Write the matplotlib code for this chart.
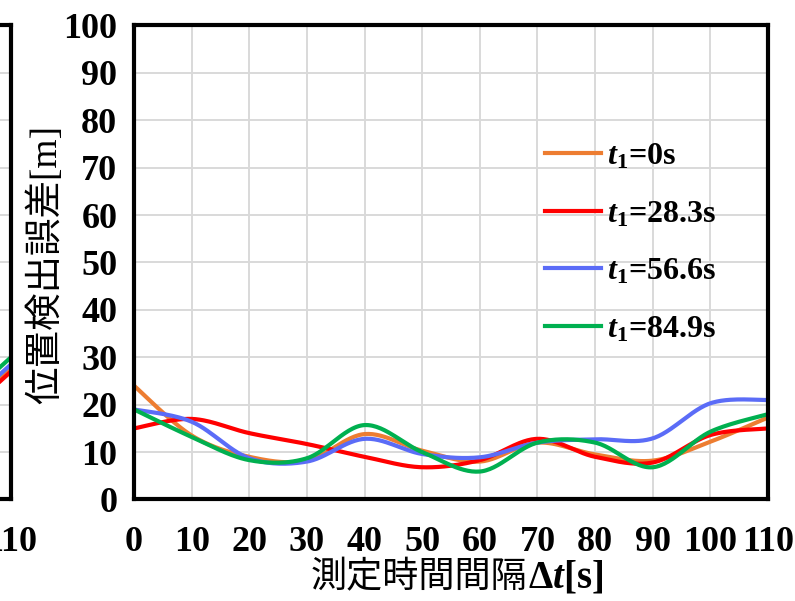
import numpy as np
import matplotlib
matplotlib.use('Agg')
import matplotlib.pyplot as plt
from matplotlib.offsetbox import TextArea, HPacker, AnnotationBbox

# measurement interval [s]
dt = [0, 10, 20, 30, 40, 50, 60, 70, 80, 90, 100, 110]

# position error [m] for each start time t1
err_t0 = [24, 13.5, 9, 8.2, 13.8, 10.3, 8, 12, 9.5, 8.2, 12.2, 17.3]
err_t28 = [15, 17, 14, 11.7, 9, 6.8, 8.3, 12.8, 9, 7.8, 13.6, 15]
err_t56 = [19, 16.4, 8.7, 8, 12.8, 9.6, 8.9, 12, 12.7, 12.9, 20.3, 21]
err_t84 = [19, 13.2, 8.3, 8.7, 15.7, 10, 5.9, 12, 12, 6.8, 14.3, 18]

# tail of the neighbouring panel (only its right end is in view)
prev_dt = [100, 110]
prev_t0 = [17, 28]
prev_t28 = [16, 27]
prev_t56 = [17.5, 28.5]
prev_t84 = [19, 30]

labels = ['0', '28.3', '56.6', '84.9']
colors = ['#ED7D31', '#FF0000', '#5B6CF7', '#00B050']

plt.rcParams['mathtext.fontset'] = 'custom'
plt.rcParams['mathtext.rm'] = 'Liberation Serif:bold'
plt.rcParams['mathtext.bf'] = 'Liberation Serif:bold'
plt.rcParams['mathtext.it'] = 'Liberation Serif:italic:bold'
plt.rcParams['mathtext.bfit'] = 'Liberation Serif:italic:bold'


def smooth(x, y, n=30):
    # Excel-style smoothed line (cubic Bezier through the points)
    x = np.asarray(x, float)
    y = np.asarray(y, float)
    px = np.concatenate([[x[0]], x, [x[-1]]])
    py = np.concatenate([[y[0]], y, [y[-1]]])
    xs, ys = [], []
    t = np.linspace(0, 1, n)
    for i in range(1, len(px) - 2):
        p0 = np.array([px[i], py[i]])
        p3 = np.array([px[i + 1], py[i + 1]])
        p1 = p0 + (np.array([px[i + 1], py[i + 1]]) - np.array([px[i - 1], py[i - 1]])) / 6
        p2 = p3 - (np.array([px[i + 2], py[i + 2]]) - np.array([px[i], py[i]])) / 6
        b = ((1 - t) ** 3)[:, None] * p0 + (3 * (1 - t) ** 2 * t)[:, None] * p1 \
            + (3 * (1 - t) * t ** 2)[:, None] * p2 + (t ** 3)[:, None] * p3
        xs.extend(b[:, 0])
        ys.extend(b[:, 1])
    return xs, ys


def style_axes(ax):
    ax.set_xlim(0, 110)
    ax.set_ylim(0, 100)
    ax.set_xticks(range(0, 111, 10))
    ax.set_yticks(range(0, 101, 10))
    ax.grid(True, color='#D9D9D9', linewidth=1.4)
    ax.set_axisbelow(True)
    for sp in ax.spines.values():
        sp.set_linewidth(3)
        sp.set_color('black')
    ax.tick_params(length=0, labelsize=26, pad=19)
    ax.tick_params(axis='y', pad=12)
    for lab in ax.get_xticklabels() + ax.get_yticklabels():
        lab.set_fontfamily('Liberation Serif')
        lab.set_fontweight('bold')


fig = plt.figure(figsize=(7.95, 6.01), dpi=100)

ax_prev = fig.add_axes([0.0138 - 0.7975, 0.1689, 0.7975, 0.7887])
style_axes(ax_prev)
ax_prev.set_yticklabels([])
for ys, c in zip([prev_t0, prev_t28, prev_t56, prev_t84], colors):
    ax_prev.plot(prev_dt, ys, color=c, linewidth=3, solid_capstyle='round')

ax = fig.add_axes([0.1686, 0.1689, 0.7975, 0.7887])
style_axes(ax)
for ys, c, lab in zip([err_t0, err_t28, err_t56, err_t84], colors, labels):
    sx, sy = smooth(dt, ys)
    ax.plot(sx, sy, color=c, linewidth=3,
            label=r'$\mathbfit{t}_{\mathrm{1}}$=' + lab + 's')

leg = ax.legend(loc='upper left', bbox_to_anchor=(0.603, 0.815), frameon=False,
                handlelength=1.75, handletextpad=0.2, labelspacing=0.88,
                prop={'family': 'Liberation Serif', 'weight': 'bold', 'size': 23})

# axis titles: CJK text followed by serif symbols
cjk = {'family': 'Noto Sans CJK JP', 'size': 26}
serif = {'family': 'Liberation Serif', 'weight': 'bold', 'size': 28}

xlab = HPacker(children=[
    TextArea('測定時間間隔', textprops=cjk),
    TextArea(r'$\mathbf{\Delta}\mathbfit{t}$[s]', textprops=serif),
], pad=0, sep=0, align='baseline')
fig.add_artist(AnnotationBbox(xlab, (457 / 795, 1 - 578 / 601), xycoords='figure fraction',
                              frameon=False, box_alignment=(0.5, 0.5)))

fig.text(46 / 795, 1 - 264 / 601, '位置検出誤差[m]', rotation=90, ha='center', va='center',
         family=['Liberation Serif', 'Noto Sans CJK JP'], fontsize=27)

fig.savefig('out.png', dpi=100)
